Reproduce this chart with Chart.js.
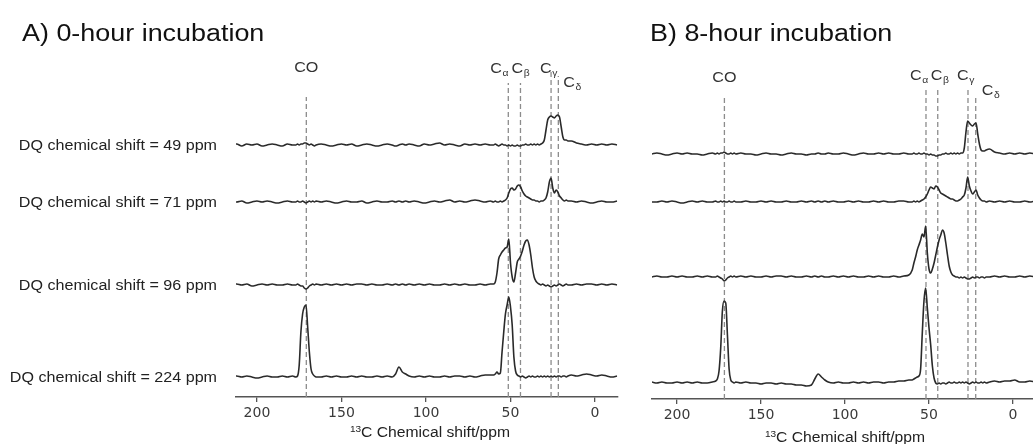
<!DOCTYPE html>
<html>
<head>
<meta charset="utf-8">
<script src="https://cdn.jsdelivr.net/npm/chart.js@4.4.1/dist/chart.umd.min.js"></script>
<style>
  body { margin: 0; background: #fff; width: 1033px; height: 444px; overflow: hidden; position: relative;
         font-family: "Liberation Sans", Arial, sans-serif; }
  .wrap { position: absolute; top: 0; height: 444px; }
  #wrapA { left: 0; width: 630px; }
  #wrapB { left: 640px; width: 393px; }
  .title { position: absolute; font-size: 23px; line-height: 23px; color: #111; white-space: nowrap;
           transform-origin: 0 0; transform: scaleX(1.17); z-index: 2; }
  .xtitle { position: absolute; font-size: 14px; line-height: 14px; color: #222; white-space: nowrap;
            transform: translateX(-50%) scaleX(1.12); z-index: 2; }
  .xtitle sup { font-size: 9px; vertical-align: 5px; line-height: 0; }
</style>
</head>
<body>
<div class="title" style="left:22px;top:22px">A) 0-hour incubation</div>
<div class="title" style="left:650px;top:22px">B) 8-hour incubation</div>
<div class="xtitle" style="left:430px;top:425px"><sup>13</sup>C Chemical shift/ppm</div>
<div class="xtitle" style="left:845px;top:430px"><sup>13</sup>C Chemical shift/ppm</div>
<div class="wrap" id="wrapA"><canvas id="chartA"></canvas></div>
<div class="wrap" id="wrapB"><canvas id="chartB"></canvas></div>
<script>
// 13C shift grid (ppm), finer where the peaks are
const shifts = [
  215, 212, 209, 206, 203, 200, 197, 194, 191, 188, 185, 182, 179,
  177, 176, 175, 174, 173, 172, 171, 170, 169, 168, 167, 166, 165,
  162, 159, 156, 153, 150, 147, 144, 141, 138, 135, 132, 129, 126, 123, 120,
  118, 116, 114, 112, 110,
  107, 104, 101, 98, 95, 92, 89, 86, 83, 80, 77, 74, 71, 68, 65, 62,
  60, 59, 58, 57, 56, 55, 54, 53, 52, 51, 50, 49, 48, 47, 46, 45, 44, 43, 42, 41,
  40, 39, 38, 37, 36, 35, 34, 33, 32, 31, 30, 29, 28, 27, 26, 25, 24, 23, 22, 21,
  20, 19, 18, 17, 16,
  14, 11, 8, 5, 2, -1, -4, -7, -10, -13
];

// A) 0-hour incubation, intensity per DQ slice
const a49 = [
  0, 1, -1, 1, 0, 1, -1, 0, 1, 0, -1, 1, 0,
  0, 1, 0, 1, 1, 2, 2, 1, 0, 1, 0, -1, 0,
  1, 0, -1, 0, 1, 0, 1, -1, 0, 1, 0, -1, 0, 1, 0,
  -1, 0, 1, 0, 1,
  0, -1, 1, 0, 1, 2, 0, 1, 0, -1, 1, 0, 1, 0, 1, 0,
  0, 1, 0, -1, 0, 1, 0, 0, -1, 0, -1, 0, -1, -1, 0, -1, -1, 0, 0, 1,
  0, 0, 1, 0, 1, 0, 1, 0, 1, 2, 5, 15, 25, 28, 29, 28, 27, 29, 30, 28,
  18, 8, 5, 5, 4,
  4, 2, 1, 0, 1, 0, 1, 0, 1, 0
];
const a71 = [
  1, 0, 1, -1, 0, 1, 0, 1, 0, -1, 0, 1, 0,
  0, 1, 0, 0, 1, 0, -1, 0, 1, 0, 1, 0, 1,
  0, 1, 0, -1, 0, 1, 0, 0, 1, -1, 0, 1, 0, 0, 1,
  0, 1, 0, 1, 0,
  1, 0, -1, 0, 1, 0, 1, 2, 0, 1, 0, 1, 2, 1, 0, 1,
  0, 1, 0, 0, 1, 0, 1, 2, 4, 9, 13, 14, 12, 13, 16, 17, 15, 11, 8, 6,
  5, 4, 3, 2, 2, 1, 1, 0, 1, 1, 2, 4, 10, 20, 24, 14, 9, 12, 10, 6,
  4, 2, 1, 2, 1,
  1, 0, 1, 0, -1, 0, 1, 0, 0, 1
];
const a96 = [
  0, 1, 0, 1, -1, 0, 1, 0, 1, 0, 0, 1, 0,
  0, 1, 0, -1, -1, -3, -4, -3, -1, 0, 1, 0, 1,
  0, 1, 0, 1, 0, 1, 0, 1, 1, 0, 1, 0, 0, 1, 0,
  1, 0, 1, 0, 1,
  0, 1, 0, 1, 0, 0, 1, 0, 1, 0, 1, 0, 0, 1, 0, 1,
  1, 3, 12, 26, 30, 33, 35, 37, 38, 46, 22, 8, 3, 12, 23, 26, 29, 34, 40, 44,
  45, 40, 30, 17, 8, 4, 2, 1, 0, 1, 0, -1, 0, -1, -2, -1, 0, -1, 0, 1,
  0, -1, 0, 1, 0,
  0, 1, 0, 1, 1, 0, 1, 0, 1, 0
];
const a224 = [
  0, 1, 0, 1, 0, -1, 0, 1, 0, 0, 1, 0, 1,
  0, 1, 12, 45, 63, 70, 72, 50, 25, 8, 3, 1, 0,
  0, 1, 0, 1, 0, 0, 1, 0, 1, 0, 0, 1, 0, 1, 0,
  3, 10, 5, 3, 1,
  0, 1, 0, 1, 0, 0, 1, 0, 1, 1, 0, 1, 0, 1, 2, 2,
  2, 3, 5, 3, 4, 25, 45, 63, 72, 80, 70, 52, 20, 6, 2, 1, 0, 1, 0, -1,
  0, 1, 0, 1, 0, 0, 1, 0, 1, 0, 1, 0, 1, 0, 1, 0, 1, 0, 1, 1,
  0, 1, 1, 0, 1,
  2, 1, 2, 3, 2, 1, 2, 1, 0, 1
];

// B) 8-hour incubation
const b49 = [
  0, 1, 0, -1, 0, 1, 0, 1, 0, 0, -1, 0, 1,
  0, 1, 0, 1, 1, 2, 1, 0, 0, 1, 0, 1, 0,
  1, 0, 0, -1, 0, 1, 0, 0, -1, 0, 1, 0, 0, -1, 0,
  0, 1, 0, 0, 1,
  0, 0, 1, 0, -1, 0, 1, 0, 0, 1, 0, 1, 0, 0, 1, 0,
  0, 1, 0, 0, 1, 0, 0, 1, 0, 0, -1, 0, -1, -1, -2, -2, -1, -1, 0, 0,
  1, 0, 0, 1, 0, 1, 0, 1, 0, 1, 1, 6, 22, 33, 31, 29, 28, 30, 31, 20,
  10, 4, 3, 3, 4,
  5, 2, 1, 0, 1, 0, 1, 0, 1, 0
];
const b71 = [
  0, 0, 1, 0, 1, 0, -1, 0, 1, 0, 1, 0, 0,
  1, 0, 0, 1, 0, 1, 0, 0, 1, 0, 0, 1, 0,
  0, 1, 0, 0, 1, 0, 1, 0, 0, 1, 0, 0, 1, 0, 1,
  0, 1, 0, 1, 0,
  1, 0, 0, 1, 0, 1, 0, 0, 1, 0, 1, 0, 0, 1, 1, 0,
  0, 1, 0, 1, 0, 1, 2, 3, 5, 8, 12, 15, 14, 13, 16, 15, 12, 9, 8, 7,
  6, 5, 4, 3, 3, 2, 1, 1, 2, 3, 5, 7, 14, 25, 16, 11, 8, 10, 12, 7,
  4, 2, 1, 1, 0,
  1, 0, 1, 0, 1, 0, 0, 1, 0, 1
];
const b96 = [
  0, 1, 0, 0, 1, 0, 1, 0, 0, 1, 0, 1, 0,
  0, 1, 0, -1, -2, -4, -3, -1, 0, 1, 0, 1, 0,
  1, 0, 1, 0, 0, 1, 0, 1, 1, 0, 1, 0, 0, 1, 0,
  1, 0, 1, 0, 0,
  1, 0, 1, 0, 1, 0, 0, 1, 0, 1, 0, 0, 1, 0, 1, 2,
  7, 14, 20, 27, 32, 37, 43, 40, 51, 24, 8, 4, 8, 14, 22, 30, 37, 42, 47, 44,
  34, 22, 11, 5, 2, 1, 0, 0, -1, 0, -1, 0, -1, -2, -2, -1, 0, -1, 0, 0,
  -1, 0, 0, -1, 0,
  0, 1, 0, 1, 0, 0, 1, 0, 1, 0
];
const b224 = [
  1, 0, 1, 0, 0, 1, 0, 1, 0, 1, 0, 0, 1,
  2, 4, 12, 35, 72, 82, 80, 48, 14, 3, 1, 0, 1,
  0, 1, 0, 0, -1, 0, 0, -1, 0, -1, -1, -2, -2, -3, -2,
  4, 9, 6, 3, 1,
  0, 1, 0, 0, 1, 0, 1, 0, 1, 1, 0, 1, 1, 2, 2, 3,
  3, 4, 5, 6, 7, 14, 50, 82, 95, 75, 55, 38, 17, 5, 0, -1, 0, -1, 0, 0,
  -1, 0, 1, 0, 0, 1, 0, 0, 1, 0, 1, 0, 1, 0, -1, 0, 1, 0, 1, 0,
  0, 1, 0, 1, 0,
  1, 2, 1, 2, 2, 3, 1, 1, 2, 1
];

const dqLabels = ['DQ chemical shift = 49 ppm', 'DQ chemical shift = 71 ppm',
                  'DQ chemical shift = 96 ppm', 'DQ chemical shift = 224 ppm'];
const siteNames = ['CO', 'C', 'C', 'C', 'C'];
const siteSubs = ['', 'α', 'β', 'γ', 'δ'];
const siteShiftsA = [170.8, 51.3, 44.1, 26.0, 21.7];
const siteShiftsB = [171.8, 51.8, 44.8, 26.8, 22.2];
const tickValues = [200, 150, 100, 50, 0];

// layout: vertical offset of each slice, dashed-line tops, label placement
const basesA = [252, 195, 112, 20];
const basesB = [245, 197, 122, 16];
const dashTopA = [300, 314, 314, 325, 321];
const dashTopB = [302, 311, 311, 312, 303];
const placeA = [{dx: 0, y: 72}, {dx: -18, y: 73}, {dx: -9, y: 73}, {dx: -11, y: 73}, {dx: 5, y: 87}];
const placeB = [{dx: 0, y: 82}, {dx: -16, y: 80}, {dx: -7, y: 80}, {dx: -11, y: 80}, {dx: 6, y: 95}];

const siteLabels = {
  id: 'siteLabels',
  afterDatasetsDraw(chart, args, opts) {
    const ctx = chart.ctx, xs = chart.scales.x, ys = chart.scales.y;
    ctx.save();
    ctx.fillStyle = '#222';
    (opts.rows || []).forEach((txt, i) => {
      const y = ys.getPixelForValue(opts.bases[i]);
      ctx.save();
      ctx.translate(217, y + 1);
      ctx.scale(1.15, 1);
      ctx.font = '14px "Liberation Sans", Arial, sans-serif';
      ctx.textAlign = 'right';
      ctx.textBaseline = 'middle';
      ctx.fillText(txt, 0, 0);
      ctx.restore();
    });
    siteNames.forEach((name, i) => {
      const px = xs.getPixelForValue(opts.shifts[i]);
      const p = opts.place[i];
      ctx.save();
      ctx.fillStyle = '#333';
      ctx.translate(px + p.dx, p.y);
      ctx.scale(1.15, 1);
      ctx.textBaseline = 'alphabetic';
      ctx.font = '14px "Liberation Sans", Arial, sans-serif';
      if (!siteSubs[i]) {
        ctx.textAlign = 'center';
        ctx.fillText(name, 0, 0);
      } else {
        ctx.textAlign = 'left';
        ctx.fillText(name, 0, 0);
        const w = ctx.measureText(name).width;
        ctx.font = '9px "Liberation Sans", Arial, sans-serif';
        ctx.fillText(siteSubs[i], w + 0.5, 3);
      }
      ctx.restore();
    });
    ctx.restore();
  }
};

function makePanel(id, traces, bases, sShifts, dashTop, place, rows, xmin, xmax, ymax, pad, axisH) {
  const datasets = traces.map((vals, r) => ({
    data: shifts.map((s, i) => ({x: s, y: bases[r] + vals[i]})),
    borderColor: '#2a2a2a',
    borderWidth: 1.6,
    pointRadius: 0,
    cubicInterpolationMode: 'monotone',
    order: 0
  }));
  sShifts.forEach((s, i) => {
    datasets.push({
      data: [{x: s, y: 0}, {x: s, y: dashTop[i]}],
      borderColor: '#8c8c8c',
      borderWidth: 1.3,
      borderDash: [5, 3],
      pointRadius: 0,
      order: 1
    });
  });
  return new Chart(document.getElementById(id), {
    type: 'line',
    data: {datasets},
    options: {
      responsive: true,
      maintainAspectRatio: false,
      animation: false,
      events: [],
      layout: {padding: pad},
      plugins: {
        legend: {display: false},
        tooltip: {enabled: false},
        siteLabels: {rows, bases, shifts: sShifts, place}
      },
      scales: {
        x: {
          type: 'linear',
          reverse: true,
          min: xmin,
          max: xmax,
          afterBuildTicks: s => { s.ticks = tickValues.map(v => ({value: v})); },
          afterFit: s => { s.height = axisH; },
          ticks: {
            font: {family: 'DejaVu Sans', size: 14},
            color: '#3a3a3a',
            padding: 3,
            maxRotation: 0,
            autoSkip: false
          },
          grid: {display: true, drawOnChartArea: false, drawTicks: true, tickLength: 5, color: '#555', lineWidth: 1.3},
          border: {display: true, color: '#555', width: 1.5}
        },
        y: {display: false, min: 0, max: ymax}
      }
    },
    plugins: [siteLabels]
  });
}

makePanel('chartA', [a49, a71, a96, a224], basesA, siteShiftsA, dashTopA, placeA, dqLabels,
  -13.6, 212.4, 337, {left: 236, right: 12, top: 60, bottom: 0}, 47);
makePanel('chartB', [b49, b71, b96, b224], basesB, siteShiftsB, dashTopB, placeB, [],
  -11.9, 214.9, 339, {left: 12, right: 0, top: 60, bottom: 0}, 45);
</script>
</body>
</html>
